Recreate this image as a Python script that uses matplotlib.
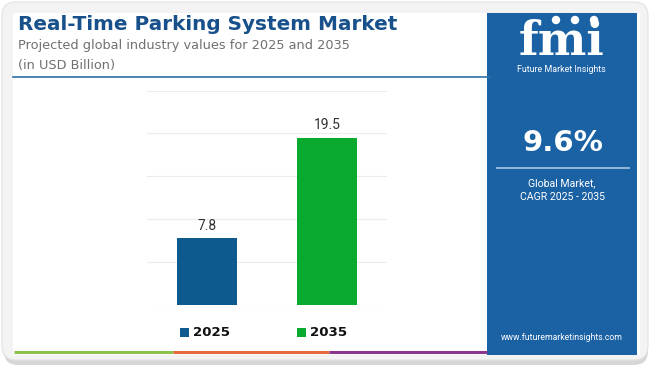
import matplotlib
matplotlib.use("Agg")

import matplotlib.pyplot as plt
from matplotlib.patches import Rectangle, FancyBboxPatch, Circle

# ---- data ----
years = ["2025", "2035"]
values = [7.8, 19.5]
bar_colors = ["#0e5a8e", "#0aaa2e"]
cagr = "9.6%"

W, H = 653, 369
fig = plt.figure(figsize=(W / 100, H / 100), dpi=100)
fig.patch.set_facecolor("white")

# overlay in pixel coords for the card decoration
deco = fig.add_axes([0, 0, 1, 1], zorder=0)
deco.set_xlim(0, W)
deco.set_ylim(H, 0)
deco.axis("off")

# outer card with shadow
deco.add_patch(FancyBboxPatch((4, 5), 644, 360, boxstyle="round,pad=0,rounding_size=14",
                              facecolor="#d6d6d6", edgecolor="none"))
deco.add_patch(FancyBboxPatch((2, 2), 646, 358, boxstyle="round,pad=0,rounding_size=14",
                              facecolor="#f3f3f3", edgecolor="#e2e2e2", lw=0.8))
deco.add_patch(Rectangle((13, 13), 627, 342, facecolor="white", edgecolor="none"))

# title block
deco.text(18, 24, "Real-Time Parking System Market", fontsize=14.4, fontweight="bold",
          color="#17508a", family="DejaVu Sans", va="center", ha="left")
deco.text(18, 46, "Projected global industry values for 2025 and 2035", fontsize=9.3,
          color="#707070", family="DejaVu Sans", va="center", ha="left")
deco.text(18, 66, "(in USD Billion)", fontsize=9.3, color="#707070", family="DejaVu Sans",
          va="center", ha="left")
deco.plot([13, 490], [77, 77], color="#2f6fa8", lw=1.2)

# bottom colored strip
deco.plot([14, 173], [352, 352], color="#8bc34a", lw=2.2, solid_capstyle="butt")
deco.plot([173, 329], [352, 352], color="#e56a3c", lw=2.2, solid_capstyle="butt")
deco.plot([329, 487], [352, 352], color="#8b3590", lw=2.2, solid_capstyle="butt")

# right panel
deco.add_patch(Rectangle((487, 13), 150, 342, facecolor="#1b62a5", edgecolor="none"))
deco.text(561, 42, "fmi", fontsize=33, fontweight="bold", family="DejaVu Serif",
          color="white", ha="center", va="center")
for yy in range(28, 58, 3):
    deco.plot([512, 612], [yy, yy], color="#1b62a5", lw=0.6)
for cx in (556, 575, 594):
    deco.add_patch(Circle((cx, 20), 4.2, facecolor="white", edgecolor="none"))
deco.text(561, 69, "Future Market Insights", fontsize=6.4, color="white",
          family="Roboto", ha="center", va="center")
deco.text(563, 143, cagr, fontsize=21, fontweight="bold", color="white",
          family="DejaVu Sans", ha="center", va="center")
deco.plot([497, 629], [168, 168], color="#a9c8e6", lw=1.2)
deco.text(562, 183, "Global Market,", fontsize=7.6, color="white", family="Roboto",
          ha="center", va="center")
deco.text(562, 197, "CAGR 2025 - 2035", fontsize=7.6, color="white", family="Roboto",
          ha="center", va="center")
deco.text(562, 338, "www.futuremarketinsights.com", fontsize=6.2, color="white",
          family="Roboto", ha="center", va="center")

# ---- bar chart ----
ax = fig.add_axes([147 / W, (H - 305) / H, 240 / W, (305 - 90.5) / H], zorder=1)
ax.set_facecolor("none")
x = list(range(len(years)))
bars = ax.bar(x, values, width=0.5, color=bar_colors, zorder=2)
ax.set_xlim(-0.5, 1.5)
ax.set_ylim(0, 25)
ax.set_yticks([0, 5, 10, 15, 20, 25])
ax.grid(axis="y", color="#ececec", lw=0.8, zorder=0)
ax.tick_params(left=False, bottom=False, labelleft=False, labelbottom=False)
for s in ax.spines.values():
    s.set_visible(False)

for b, v in zip(bars, values):
    ax.annotate(f"{v}", (b.get_x() + b.get_width() / 2, v), xytext=(0, 4),
                textcoords="offset points", ha="center", va="bottom",
                fontsize=10, color="#333333", family="Roboto")

# legend
leg_x = [183, 300]
for lx, lab, c in zip(leg_x, years, bar_colors):
    deco.add_patch(Rectangle((lx - 3, 328), 9, 9, facecolor=c, edgecolor="none"))
    deco.text(lx + 10, 333, lab, fontsize=9.6, fontweight="bold", color="#111111",
              family="DejaVu Sans", ha="left", va="center")

fig.savefig("out.png", dpi=100)
